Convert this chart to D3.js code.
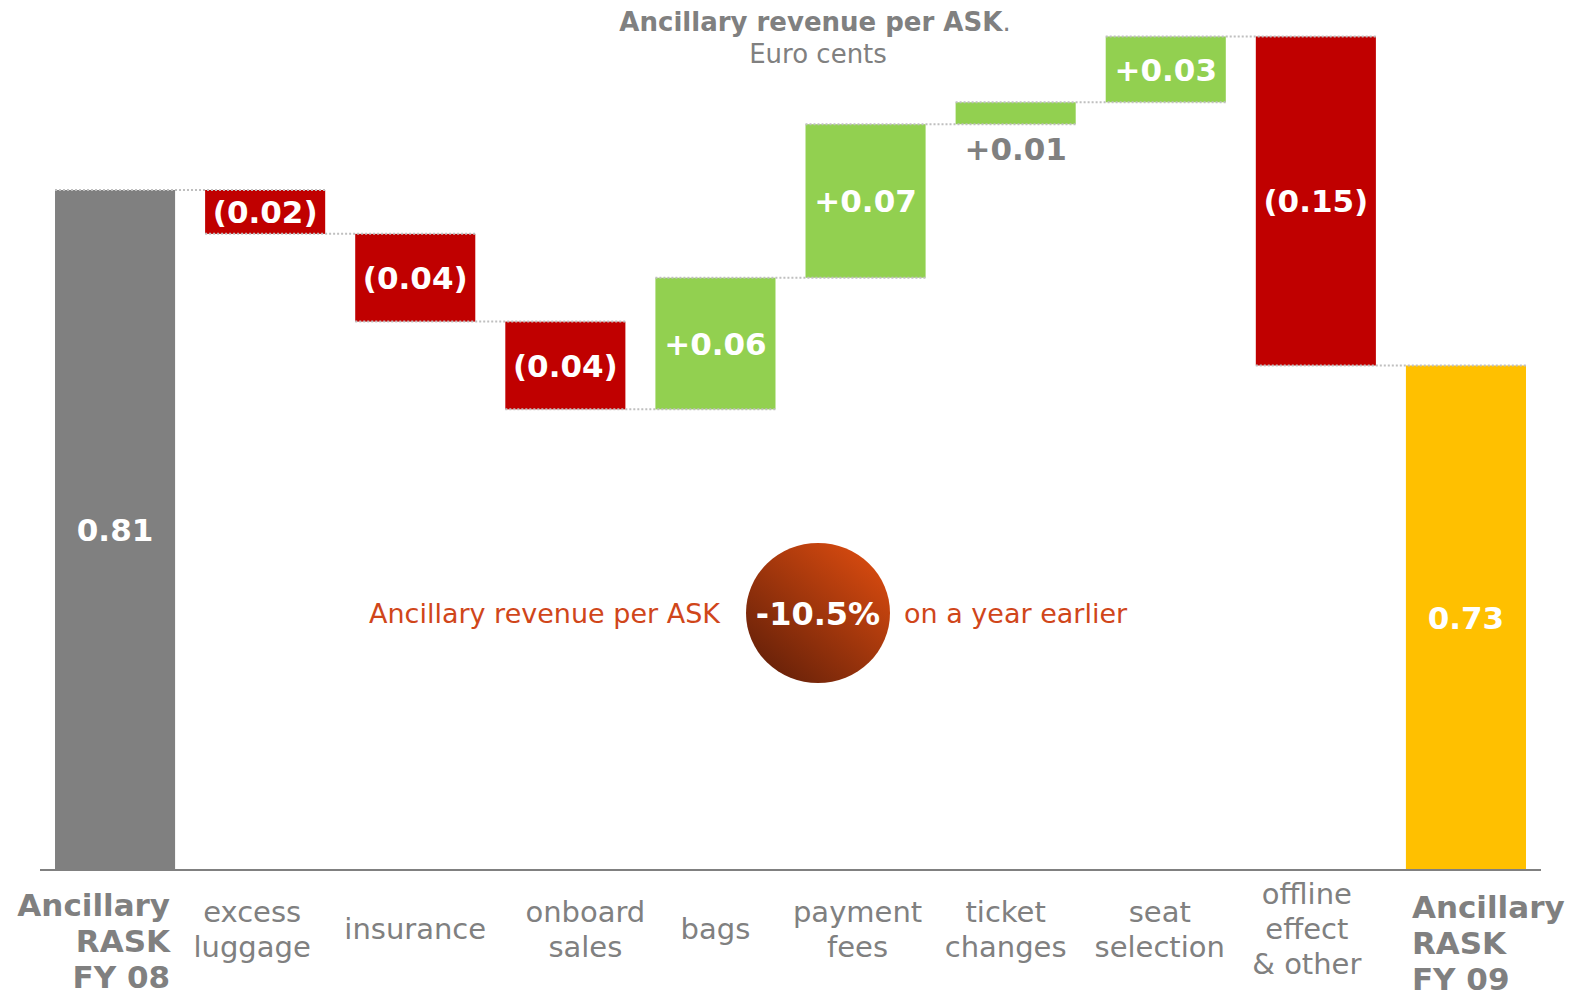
<!DOCTYPE html>
<html>
<head>
<meta charset="utf-8">
<script src="https://cdn.jsdelivr.net/npm/d3@7"></script>
<style>
  html, body { margin: 0; padding: 0; background: #fff; }
  svg { display: block; }
  text { font-family: "DejaVu Sans", Verdana, sans-serif; }
</style>
</head>
<body>
<svg id="chart" width="1576" height="1004"></svg>
<script>
// data (Euro cents per ASK)
const categories = [
  ["Ancillary", "RASK", "FY 08"],
  ["excess", "luggage"],
  ["insurance"],
  ["onboard", "sales"],
  ["bags"],
  ["payment", "fees"],
  ["ticket", "changes"],
  ["seat", "selection"],
  ["offline", "effect", "& other"],
  ["Ancillary", "RASK", "FY 09"]
];
const values = [0.81, -0.02, -0.04, -0.04, 0.06, 0.07, 0.01, 0.03, -0.15, 0.73];
const kinds = ["total", "delta", "delta", "delta", "delta", "delta", "delta", "delta", "delta", "total"];
const titleText = "Ancillary revenue per ASK";
const subtitleText = "Euro cents";
const changeText = ["Ancillary revenue per ASK", "-10.5%", "on a year earlier"];

// layout: the category labels are not quite centred under their bars
const labelShift = [0, -13, 0, 20, 0, -8, -10, -6, -9, 0];

const colors = { total0: "#808080", total1: "#FFC000", up: "#92D050", down: "#C00000" };
const grey = "#808080";
const orange = "#D0461A";

// build the waterfall steps
let run = 0;
const steps = values.map((v, i) => {
  let y0, y1;
  if (kinds[i] === "total") { y0 = null; y1 = v; run = v; }
  else { y0 = run; y1 = run + v; run = y1; }
  return { i, v, kind: kinds[i], y0, y1, lines: categories[i] };
});

const svg = d3.select("#chart");
const x = d3.scaleBand().domain(d3.range(values.length)).range([40, 1541])
  .paddingInner(0.2).paddingOuter(0.1);
// truncated value axis, the base line sits at 0.5
const y = d3.scaleLinear().domain([0.5, 0.81]).range([870, 190]);
const bw = x.bandwidth();

const fmt = d3.format(".2f");
const label = d => d.kind === "total" ? fmt(d.v) : (d.v < 0 ? `(${fmt(-d.v)})` : `+${fmt(d.v)}`);
const barTop = d => d.kind === "total" ? y(d.y1) : y(Math.max(d.y0, d.y1));
const barBottom = d => d.kind === "total" ? y.range()[0] : y(Math.min(d.y0, d.y1));
const fill = d => d.kind === "total" ? (d.i === 0 ? colors.total0 : colors.total1) : (d.v < 0 ? colors.down : colors.up);

// bars
svg.append("g").selectAll("rect").data(steps).join("rect")
  .attr("x", d => x(d.i))
  .attr("y", d => barTop(d))
  .attr("width", bw)
  .attr("height", d => barBottom(d) - barTop(d))
  .attr("fill", fill);

// dotted connectors between steps
svg.append("g").selectAll("line").data(steps.slice(0, -1)).join("line")
  .attr("x1", d => x(d.i))
  .attr("x2", d => x(d.i + 1) + bw)
  .attr("y1", d => y(d.y1))
  .attr("y2", d => y(d.y1))
  .attr("stroke", "#BFBFBF")
  .attr("stroke-width", 2)
  .attr("stroke-dasharray", "2,2");

// base line
svg.append("line")
  .attr("x1", 40).attr("x2", 1541)
  .attr("y1", y.range()[0]).attr("y2", y.range()[0])
  .attr("stroke", grey).attr("stroke-width", 2);

// value labels, small bars get theirs below in grey
svg.append("g").selectAll("text").data(steps).join("text")
  .attr("x", d => x(d.i) + bw / 2)
  .attr("y", d => {
    const h = barBottom(d) - barTop(d);
    return h < 30 ? barBottom(d) + 25 : (barTop(d) + barBottom(d)) / 2;
  })
  .attr("dy", "0.36em")
  .attr("text-anchor", "middle")
  .attr("font-weight", "bold")
  .attr("font-size", 31)
  .attr("fill", d => (barBottom(d) - barTop(d)) < 30 ? grey : "#fff")
  .text(label);

// category labels
const cat = svg.append("g").selectAll("text").data(steps).join("text")
  .attr("fill", grey)
  .attr("font-weight", d => d.kind === "total" ? "bold" : "normal")
  .attr("font-size", d => d.kind === "total" ? 31 : 29)
  .attr("text-anchor", d => d.kind === "total" ? (d.i === 0 ? "end" : "start") : "middle");
cat.each(function (d) {
  const lh = d.kind === "total" ? 36 : 35;
  const cy = d.kind === "total" ? (d.i === 0 ? 941 : 943) : 929;
  const tx = d.kind === "total"
    ? (d.i === 0 ? x(d.i) + bw - 5 : x(d.i) + 6)
    : x(d.i) + bw / 2 + labelShift[d.i];
  const n = d.lines.length;
  d3.select(this).selectAll("tspan").data(d.lines).join("tspan")
    .attr("x", tx)
    .attr("y", (t, k) => cy + (k - (n - 1) / 2) * lh)
    .attr("dy", "0.36em")
    .text(t => t);
});

// title
const title = svg.append("text")
  .attr("x", 815).attr("y", 22).attr("dy", "0.36em")
  .attr("text-anchor", "middle").attr("fill", grey).attr("font-size", 26);
title.append("tspan").attr("font-weight", "bold").text(titleText);
title.append("tspan").text(".");
svg.append("text")
  .attr("x", 818).attr("y", 54).attr("dy", "0.36em")
  .attr("text-anchor", "middle").attr("fill", grey).attr("font-size", 26)
  .text(subtitleText);

// change badge
const defs = svg.append("defs");
const grad = defs.append("linearGradient").attr("id", "badge")
  .attr("x1", "85%").attr("y1", "10%").attr("x2", "15%").attr("y2", "90%");
grad.append("stop").attr("offset", "0%").attr("stop-color", "#D4490F");
grad.append("stop").attr("offset", "100%").attr("stop-color", "#6A2209");

const cx = 818, cy = 613;
svg.append("ellipse")
  .attr("cx", cx).attr("cy", cy).attr("rx", 72).attr("ry", 70)
  .attr("fill", "url(#badge)");
svg.append("text")
  .attr("x", cx).attr("y", cy).attr("dy", "0.36em")
  .attr("text-anchor", "middle").attr("fill", "#fff")
  .attr("font-weight", "bold").attr("font-size", 32)
  .text(changeText[1]);
svg.append("text")
  .attr("x", 720).attr("y", cy).attr("dy", "0.36em")
  .attr("text-anchor", "end").attr("fill", orange).attr("font-size", 27)
  .text(changeText[0]);
svg.append("text")
  .attr("x", 904).attr("y", cy).attr("dy", "0.36em")
  .attr("text-anchor", "start").attr("fill", orange).attr("font-size", 27)
  .text(changeText[2]);
</script>
</body>
</html>
